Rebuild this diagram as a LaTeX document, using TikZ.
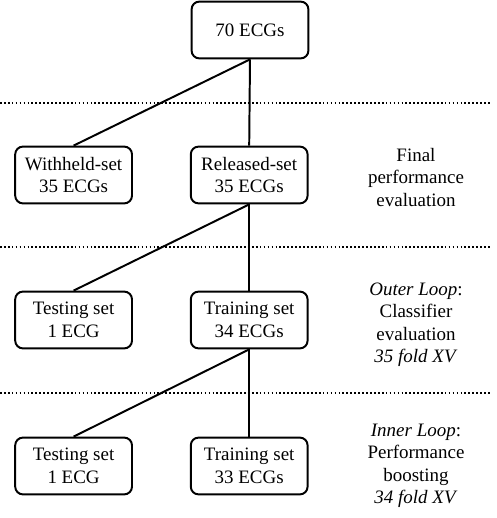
\documentclass[tikz,border=0pt]{standalone}
\usepackage{fontspec}
\setmainfont{Liberation Serif}
\usetikzlibrary{positioning}

\begin{document}
\begin{tikzpicture}[font=\fontsize{13.5}{16}\selectfont,
  set/.style={draw, line width=1.4pt, rounded corners=5.5pt, minimum width=2.92cm,
    minimum height=1.42cm, align=center, inner sep=0pt},
  link/.style={line width=1.4pt},
  stageline/.style={line width=1.1pt, dash pattern=on 1.2pt off 1.6pt},
  note/.style={align=center}]

  \useasboundingbox (0,0) rectangle (12.4,12.95);

  % --- stage separators ---
  \draw[stageline] (0,10.375) -- (12.25,10.375);
  \draw[stageline] (0,6.775) -- (12.25,6.775);
  \draw[stageline] (0,3.125) -- (12.25,3.125);

  % --- all data ---
  \node[set] (all) at (6.25,12.2) {70 ECGs};

  % --- final split ---
  \node[set] (withheld) at (1.84,8.575) {Withheld-set\\35 ECGs};
  \node[set] (released) at (6.23,8.575) {Released-set\\35 ECGs};
  \node[note] (final) at (10.4,8.52) {Final\\performance\\evaluation};
  \draw[link] (all.south) -- (withheld.north);
  \draw[link] (all.south) -- (released.north);

  % --- outer loop ---
  \node[set] (outertest) at (1.84,4.95) {Testing set\\1 ECG};
  \node[set] (outertrain) at (6.23,4.95) {Training set\\34 ECGs};
  \node[note] (outer) at (10.4,4.83) {\textit{Outer Loop}:\\Classifier\\evaluation\\\textit{35 fold XV}};
  \draw[link] (released.south) -- (outertest.north);
  \draw[link] (released.south) -- (outertrain.north);

  % --- inner loop ---
  \node[set] (innertest) at (1.84,1.3) {Testing set\\1 ECG};
  \node[set] (innertrain) at (6.23,1.3) {Training set\\33 ECGs};
  \node[note] (inner) at (10.4,1.3) {\textit{Inner Loop}:\\Performance\\boosting\\\textit{34 fold XV}};
  \draw[link] (outertrain.south) -- (innertest.north);
  \draw[link] (outertrain.south) -- (innertrain.north);
\end{tikzpicture}
\end{document}
